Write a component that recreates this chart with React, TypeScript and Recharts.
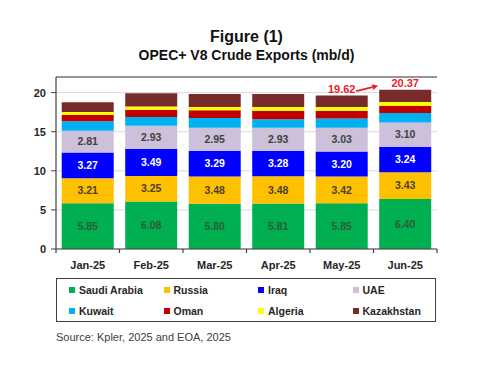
import { BarChart, Bar, XAxis, YAxis, CartesianGrid, LabelList, ReferenceLine } from "recharts";

const months = ["Jan-25", "Feb-25", "Mar-25", "Apr-25", "May-25", "Jun-25"];
const saudiArabia = [5.85, 6.08, 5.8, 5.81, 5.85, 6.4];
const russia = [3.21, 3.25, 3.48, 3.48, 3.42, 3.43];
const iraq = [3.27, 3.49, 3.29, 3.28, 3.2, 3.24];
const uae = [2.81, 2.93, 2.95, 2.93, 3.03, 3.1];
const kuwait = [1.2, 1.12, 1.24, 1.11, 1.2, 1.22];
const oman = [0.81, 0.94, 0.98, 1.07, 0.98, 0.93];
const algeria = [0.38, 0.43, 0.43, 0.47, 0.47, 0.47];
const kazakhstan = [1.24, 1.67, 1.67, 1.67, 1.47, 1.58];
const totalCallouts = ["", "", "", "", "19.62", "20.37"];
const yTicks = [0, 5, 10, 15, 20];

const FONT = "'Liberation Sans', Arial, sans-serif";
const AXIS = "#404040";
const CALLOUT = "#e8202a";

const series = [
  { key: "sa", name: "Saudi Arabia", color: "#00b050", label: "#2b5e3c", values: saudiArabia },
  { key: "ru", name: "Russia", color: "#ffc000", label: "#4a4030", values: russia },
  { key: "iq", name: "Iraq", color: "#0000ff", label: "#ffffff", values: iraq },
  { key: "ae", name: "UAE", color: "#ccc0da", label: "#404040", values: uae },
  { key: "kw", name: "Kuwait", color: "#00b0f0", label: null, values: kuwait },
  { key: "om", name: "Oman", color: "#c00000", label: null, values: oman },
  { key: "dz", name: "Algeria", color: "#ffff00", label: null, values: algeria },
  { key: "kz", name: "Kazakhstan", color: "#772b2b", label: null, values: kazakhstan },
];

const data = months.map((month, i) => {
  const row: Record<string, string | number> = { month, callout: totalCallouts[i] };
  series.forEach((s) => {
    row[s.key] = s.values[i];
  });
  return row;
});

function MonthTick(props: any) {
  const { x, y, payload, index, visibleTicksCount, width } = props;
  const count = visibleTicksCount || months.length;
  const half = (width || 381) / count / 2;
  return (
    <g>
      <line x1={x - half} x2={x - half} y1={y} y2={y + 4} stroke={AXIS} strokeWidth={1.2} />
      {index === count - 1 && (
        <line x1={x + half} x2={x + half} y1={y} y2={y + 4} stroke={AXIS} strokeWidth={1.2} />
      )}
      <text x={x} y={y + 20} textAnchor="middle" fontSize={11} fontWeight="bold" fill="#262626" fontFamily={FONT}>
        {payload.value}
      </text>
    </g>
  );
}

function CalloutLabel(props: any) {
  const vb = props.viewBox || {};
  const x = props.x ?? vb.x;
  const y = props.y ?? vb.y;
  const width = props.width ?? vb.width;
  const { value, index } = props;
  if (!value) return null;
  let arrow = null;
  if (index === months.length - 1) {
    const tx = x - 1;
    const ty = y - 4;
    const sx = x - 23;
    const sy = y + 1.3;
    const len = Math.hypot(tx - sx, ty - sy);
    const ux = (tx - sx) / len;
    const uy = (ty - sy) / len;
    const bx = tx - ux * 6;
    const by = ty - uy * 6;
    const px = -uy * 3;
    const py = ux * 3;
    arrow = (
      <g>
        <line x1={sx} y1={sy} x2={bx} y2={by} stroke={CALLOUT} strokeWidth={1.8} />
        <polygon points={`${tx},${ty} ${bx + px},${by + py} ${bx - px},${by - py}`} fill={CALLOUT} />
      </g>
    );
  }
  return (
    <g>
      {arrow}
      <text x={x + width / 2} y={y - 3} textAnchor="middle" fontSize={11} fontWeight="bold" fill={CALLOUT} fontFamily={FONT}>
        {value}
      </text>
    </g>
  );
}

export default function App() {
  return (
    <div style={{ position: "absolute", left: 0, top: 0, width: 500, height: 378, background: "#fff", fontFamily: FONT }}>
      <div style={{ position: "absolute", left: 56, width: 381, top: 28, lineHeight: "18px", fontSize: 16, fontWeight: "bold", textAlign: "center", color: "#111" }}>
        Figure (1)
      </div>
      <div style={{ position: "absolute", left: 56, width: 381, top: 46, lineHeight: "18px", fontSize: 14, fontWeight: "bold", textAlign: "center", color: "#111" }}>
        OPEC+ V8 Crude Exports (mb/d)
      </div>
      <div style={{ position: "absolute", left: 0, top: 0 }}>
        <BarChart width={500} height={378} data={data} margin={{ top: 77, right: 63, bottom: 99, left: 16 }} barCategoryGap="9%">
          <CartesianGrid vertical={false} stroke="#d9d9d9" />
          <XAxis dataKey="month" interval={0} tickLine={false} tickSize={0} tickMargin={0} height={30} axisLine={{ stroke: AXIS, strokeWidth: 1.2 }} tick={<MonthTick />} />
          <YAxis
            domain={[0, 22]}
            ticks={yTicks}
            width={40}
            tickSize={5}
            tickMargin={5}
            axisLine={{ stroke: AXIS, strokeWidth: 1.2 }}
            tickLine={{ stroke: AXIS }}
            tick={{ fontSize: 11, fontWeight: "bold", fill: "#262626", fontFamily: FONT }}
          />
          <YAxis yAxisId="frame" orientation="right" domain={[0, 22]} width={0} tick={false} tickLine={false} axisLine={{ stroke: AXIS, strokeWidth: 1.2 }} />
          <ReferenceLine y={22} stroke={AXIS} strokeWidth={1.2} />
          {series.map((s) => (
            <Bar key={s.key} dataKey={s.key} name={s.name} stackId="opec" fill={s.color} isAnimationActive={false}>
              {s.label && (
                <LabelList
                  dataKey={s.key}
                  position="center"
                  formatter={(v: any) => Number(v).toFixed(2)}
                  style={{ fontSize: 10.5, fontWeight: "bold", fill: s.label, fontFamily: FONT }}
                />
              )}
              {s.key === "kz" && <LabelList dataKey="callout" content={CalloutLabel} />}
            </Bar>
          ))}
        </BarChart>
      </div>
      <div
        style={{
          position: "absolute",
          left: 56,
          top: 278,
          width: 380,
          height: 44,
          boxSizing: "border-box",
          border: `1.5px solid ${AXIS}`,
          display: "grid",
          gridTemplateColumns: "repeat(4, 1fr)",
          gridAutoRows: "21px",
        }}
      >
        {series.map((s) => (
          <div key={s.key} style={{ display: "flex", alignItems: "center", paddingLeft: 12, fontSize: 10.5, fontWeight: "bold", color: "#262626" }}>
            <span style={{ width: 6, height: 6, background: s.color, marginRight: 4, display: "inline-block" }} />
            {s.name}
          </div>
        ))}
      </div>
      <div style={{ position: "absolute", left: 56, top: 329, fontSize: 11, color: "#404040", lineHeight: "16px" }}>
        Source: Kpler, 2025 and EOA, 2025
      </div>
    </div>
  );
}
